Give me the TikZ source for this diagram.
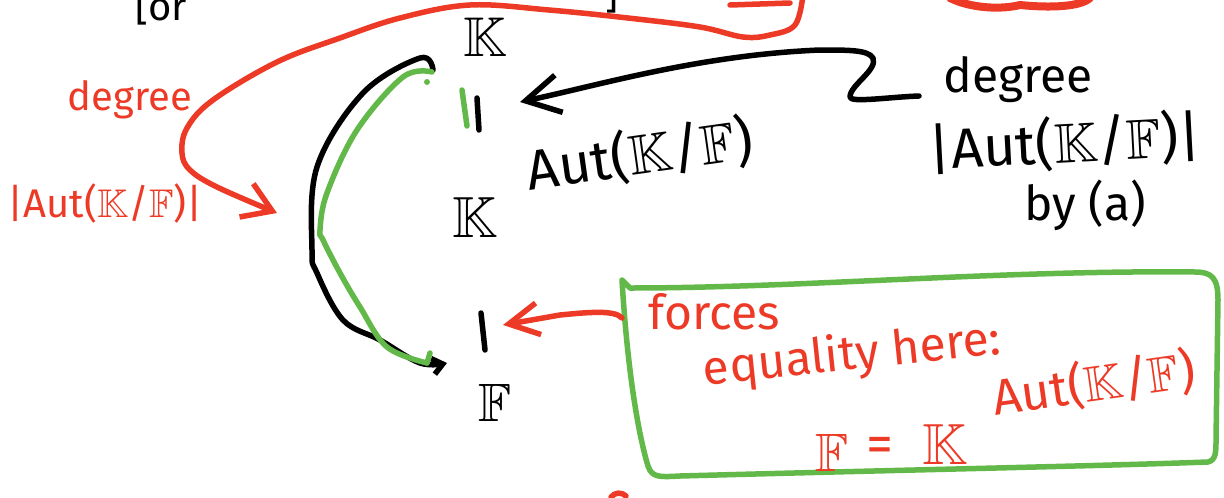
\documentclass[tikz,border=0pt]{standalone}
\usepackage{fontspec}
\usepackage{amssymb}
\setmainfont{Fira Sans}
\usetikzlibrary{arrows.meta}
\definecolor{pred}{RGB}{236,58,38}
\definecolor{pgreen}{RGB}{98,184,72}
\newcommand{\KK}{\ensuremath{\mathbb{K}}}
\newcommand{\FF}{\ensuremath{\mathbb{F}}}
\newcommand{\fs}[1]{\fontsize{#1}{#1}\selectfont}
\begin{document}
\begin{tikzpicture}[x=1pt,y=-1pt,
  ink/.style={line width=5.5pt,line cap=round,line join=round},
  blk/.style={ink,black},
  rd/.style={ink,pred},
  gr/.style={ink,pgreen},
  btxt/.style={inner sep=0pt,text=black},
  rtxt/.style={inner sep=0pt,text=pred},
  bighead/.style={-{Straight Barb[length=34pt,width=38pt]}},
  smallhead/.style={-{Straight Barb[length=10pt,width=16pt]}}]
\useasboundingbox (0,0) rectangle (1224,498);

% cut-off top line
\node[btxt,anchor=base west,font=\fs{40}] (topa) at (135,20) {[or};
\node[btxt,anchor=base west,font=\fs{40}] (topb) at (605,8) {]};

% tower
\node[btxt,font=\fs{56}] (Ktop) at (485,37) {\KK};
\node[btxt,font=\fs{58}] (Kfix) at (475,218) {\KK};
\node[btxt,font=\fs{56},rotate=8] (aut) at (640,155) {Aut(\KK/\FF)};
\node[btxt,font=\fs{54}] (Fbot) at (495,403) {\FF};

\coordinate (b1a) at (477,98); \coordinate (b1b) at (479,130);
\coordinate (b2a) at (481,313); \coordinate (b2b) at (485,350);
\draw[blk] (b1a) -- (b1b);
\draw[blk] (b2a) -- (b2b);
\draw[gr] (462,90) -- (467,126);

% black curved arrow and green curve
\draw[blk,smallhead] plot[smooth,tension=0.6] coordinates {(433,70) (420,58) (363,93) (317,167) (312,250) (317,273) (343,320) (380,340) (420,363) (447,363)};
\draw[gr] plot[smooth,tension=0.6] coordinates {(432,72) (403,77) (357,130) (327,193) (320,230) (323,240) (340,273) (360,307) (387,347) (427,363)};
\draw[gr] (427,363) -- (430,353);
\fill[pgreen] (427,82) circle (3pt);

% right black annotation
\node[btxt,font=\fs{48}] (deg) at (1018,80) {degree};
\node[btxt,font=\fs{56},rotate=3] (autb) at (1065,143) {|Aut(\KK/\FF)|};
\node[btxt,font=\fs{48}] (bya) at (1085,205) {by (a)};
\draw[blk,bighead] (919,96) .. controls (890,97) and (850,103) .. (850,97)
  .. controls (850,85) and (878,70) .. (873,58)
  .. controls (868,50) and (850,50) .. (820,50)
  .. controls (700,55) and (600,85) .. (520,102);

% left red annotation
\node[rtxt,font=\fs{40}] (rdeg) at (130,100) {degree};
\node[rtxt,font=\fs{40}] (raut) at (105,203) {|Aut(\KK/\FF)|};
\draw[rd,-{Straight Barb[length=28pt,width=36pt]}] plot[smooth,tension=0.6] coordinates {(803,-5) (795,25) (770,35) (743,37) (700,27) (628,18) (549,10) (470,5) (400,18) (340,38) (277,62) (213,100) (187,128) (182,153) (190,170) (217,187) (277,213)};
\draw[rd] (730,5) -- (790,3);
\draw[rd,line width=8pt] (950,-2) .. controls (970,8) and (1000,10) .. (1020,5) .. controls (1050,8) and (1080,7) .. (1090,-2);
\draw[rd] (611,497) .. controls (615,492) and (622,492) .. (626,496);

% green box
\draw[gr] (622,280) .. controls (628,380) and (640,440) .. (648,466)
  .. controls (652,478) and (660,477) .. (680,476)
  .. controls (900,470) and (1100,466) .. (1208,462)
  .. controls (1216,460) and (1216,452) .. (1216,440)
  -- (1218,300) .. controls (1218,278) and (1212,272) .. (1195,272)
  .. controls (1000,270) and (800,288) .. (630,288) -- (622,280);

% red text in box
\node[rtxt,font=\fs{48}] (forces) at (714,312) {forces};
\node[rtxt,font=\fs{48},rotate=6] (eq) at (852,356) {equality here:};
\node[rtxt,font=\fs{54}] (Fr) at (832,453) {\FF};
\node[rtxt,font=\fs{54}] (eqs) at (880,450) {=};
\node[rtxt,font=\fs{58}] (Kr) at (945,445) {\KK};
\node[rtxt,font=\fs{50},rotate=8] (autr) at (1094,384) {Aut(\KK/\FF)};
\draw[rd,-{Straight Barb[length=30pt,width=32pt]}] (622,318) .. controls (615,310) and (590,312) .. (560,315) -- (503,325);
\end{tikzpicture}
\end{document}
